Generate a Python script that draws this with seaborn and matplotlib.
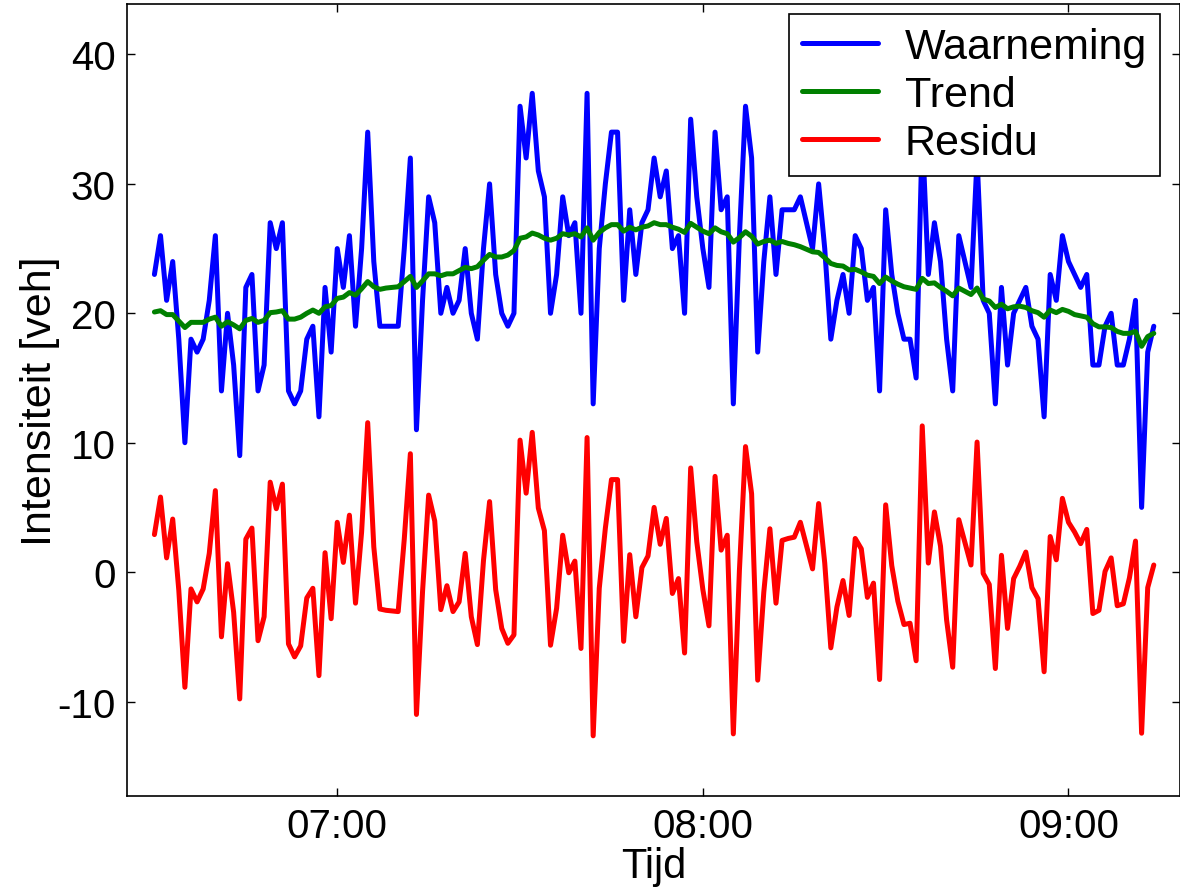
import numpy as np
import pandas as pd
import matplotlib
matplotlib.use("Agg")
import matplotlib.pyplot as plt
import matplotlib.dates as mdates
import seaborn as sns

# Per-minute vehicle counts (06:30 - 09:14) and the fitted trend
start_time = "2013-01-01 06:30"
waarneming = [
    23, 26, 21, 24, 18, 10, 18, 17, 18, 21, 26, 14, 20, 16, 9, 22, 23, 14, 16, 27,
    25, 27, 14, 13, 14, 18, 19, 12, 22, 17, 25, 22, 26, 19, 25, 34, 24, 19, 19, 19,
    19, 25, 32, 11, 21, 29, 27, 20, 22, 20, 21, 25, 20, 18, 25, 30, 23, 20, 19, 20,
    36, 32, 37, 31, 29, 20, 23, 29, 26, 27, 20, 37, 13, 25, 30, 34, 34, 21, 28, 23,
    27, 28, 32, 29, 31, 25, 26, 20, 35, 29, 25, 22, 34, 28, 29, 13, 26, 36, 32, 17,
    24, 29, 23, 28, 28, 28, 29, 27, 25, 30, 25, 18, 21, 23, 20, 26, 25, 21, 22, 14,
    28, 23, 20, 18, 18, 15, 34, 23, 27, 24, 18, 14, 26, 24, 22, 32, 21, 20, 13, 22,
    16, 20, 21, 22, 19, 18, 12, 23, 21, 26, 24, 23, 22, 23, 16, 16, 19, 20, 16, 16,
    18, 21, 5, 17, 19,
]
trend = [
    20.1, 20.2, 19.9, 19.9, 19.4, 18.9, 19.3, 19.3, 19.3, 19.55, 19.7, 19.0, 19.35, 19.1, 18.8,
    19.45, 19.6, 19.3, 19.45, 20.05, 20.1, 20.2, 19.55, 19.55, 19.7, 20.0, 20.25, 20.0, 20.5, 20.6,
    21.15, 21.25, 21.6, 21.4, 21.9, 22.45, 22.05, 21.85, 21.95, 22.0, 22.05, 22.45, 22.85, 22.0, 22.5,
    23.05, 23.05, 22.9, 23.05, 23.05, 23.3, 23.55, 23.45, 23.6, 24.1, 24.55, 24.35, 24.35, 24.5, 24.85,
    25.8, 25.9, 26.2, 26.05, 25.8, 25.65, 25.8, 26.15, 26.05, 26.15, 25.9, 26.6, 25.65, 26.25, 26.6,
    26.85, 26.85, 26.35, 26.65, 26.45, 26.65, 26.75, 27.0, 26.85, 26.85, 26.65, 26.5, 26.25, 26.95, 26.65,
    26.35, 26.15, 26.6, 26.3, 26.15, 25.5, 25.85, 26.3, 25.95, 25.35, 25.55, 25.65, 25.4, 25.55, 25.4,
    25.3, 25.15, 24.95, 24.75, 24.7, 24.3, 23.85, 23.7, 23.65, 23.35, 23.4, 23.2, 22.95, 22.85, 22.3,
    22.8, 22.5, 22.25, 22.05, 21.95, 21.85, 22.7, 22.3, 22.35, 22.0, 21.7, 21.35, 21.95, 21.7, 21.45,
    21.95, 21.1, 20.95, 20.45, 20.7, 20.35, 20.5, 20.55, 20.45, 20.2, 20.05, 19.7, 20.25, 20.05, 20.3,
    20.15, 19.9, 19.8, 19.7, 19.2, 18.95, 18.95, 18.9, 18.6, 18.45, 18.45, 18.6, 17.45, 18.2, 18.45,
]
series_names = ["Waarneming", "Trend", "Residu"]
series_colors = ["#0000ff", "#008000", "#ff0000"]
y_ticks = [-10, 0, 10, 20, 30, 40]

times = pd.date_range(start_time, periods=len(waarneming), freq="min")
residu = np.array(waarneming, dtype=float) - np.array(trend)

df = pd.DataFrame({"Tijd": times,
                   "Waarneming": waarneming,
                   "Trend": trend,
                   "Residu": residu})
long_df = df.melt(id_vars="Tijd", var_name="serie", value_name="waarde")

sns.set_style("ticks")
plt.rcParams["font.family"] = ["Liberation Sans", "DejaVu Sans"]
plt.rcParams["axes.unicode_minus"] = False
plt.rcParams["font.size"] = 29
for key in ("text.color", "axes.labelcolor", "xtick.color", "ytick.color",
            "axes.edgecolor"):
    plt.rcParams[key] = "black"

W, H = 1180, 895
fig = plt.figure(figsize=(W / 100, H / 100), dpi=100)
ax = fig.add_axes([127 / W, 1 - 797 / H, (W - 127) / W, (797 - 5) / H])

LW = 3.6
sns.lineplot(data=long_df, x="Tijd", y="waarde", hue="serie",
             hue_order=series_names,
             palette=dict(zip(series_names, series_colors)),
             linewidth=LW, ax=ax)

t0 = pd.Timestamp(start_time)
ax.set_xlim(t0 - pd.Timedelta(minutes=4.5), t0 + pd.Timedelta(minutes=168.3))
ax.set_ylim(-17.3, 43.9)
ax.set_yticks(y_ticks)
ax.xaxis.set_major_locator(mdates.HourLocator())
ax.xaxis.set_major_formatter(mdates.DateFormatter("%H:%M"))

ax.set_xlabel("Tijd", fontsize=30, labelpad=1)
ax.set_ylabel("Intensiteit [veh]", fontsize=31, labelpad=-2)
ax.tick_params(direction="in", length=6, width=1, labelsize=29,
               top=True, right=True, pad=8, colors="black")
for sp in ax.spines.values():
    sp.set_linewidth(1.2)
    sp.set_color("black")

leg = ax.legend(loc="upper right", bbox_to_anchor=(0.981, 0.987),
                borderaxespad=0, frameon=True, fancybox=False, framealpha=1,
                facecolor="white", edgecolor="black", fontsize=31,
                handlelength=1.75, handletextpad=0.63, labelspacing=0.18,
                borderpad=0.3)
leg.get_frame().set_linewidth(1.2)
for text in leg.get_texts():
    text.set_color("black")
for line in leg.get_lines():
    line.set_linewidth(LW)

fig.savefig("out.png", dpi=100)
